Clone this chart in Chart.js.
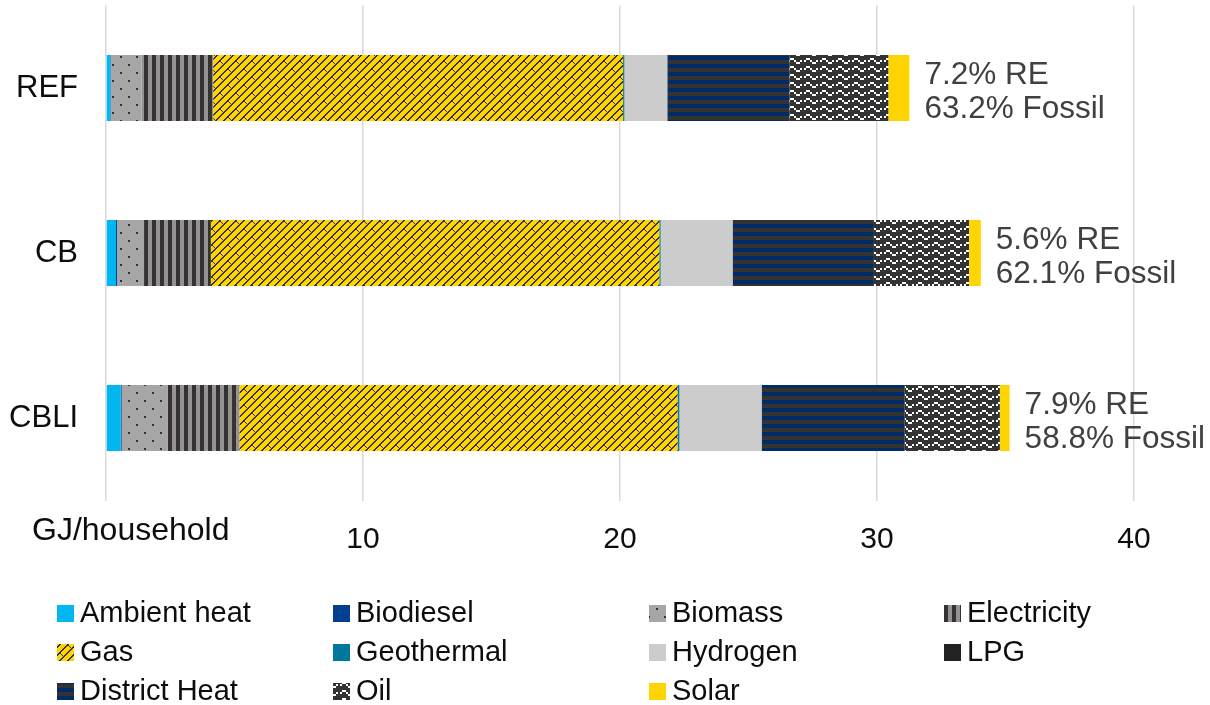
<!DOCTYPE html>
<html>
<head>
<meta charset="utf-8">
<title>Household final energy by carrier</title>
<script src="https://cdn.jsdelivr.net/npm/chart.js@4.4.1/dist/chart.umd.min.js"></script>
<style>
  body { margin: 0; background: #fff; }
  canvas { display: block; }
</style>
</head>
<body>
<canvas id="energy-chart" width="1210" height="705"></canvas>
<script>
// scenarios on the y axis
const scenarios = ['REF', 'CB', 'CBLI'];

// GJ per household, one value per scenario
const ambientHeat  = [0.17, 0.39, 0.57];
const biodiesel    = [0.02, 0.04, 0.04];
const biomass      = [1.2, 1.05, 1.8];
const electricity  = [2.78, 2.6, 2.78];
const gas          = [15.95, 17.45, 17.05];
const geothermal   = [0.05, 0.05, 0.07];
const hydrogen     = [1.67, 2.8, 3.2];
const lpg          = [0, 0, 0];
const districtHeat = [4.75, 5.5, 5.57];
const oil          = [3.85, 3.7, 3.7];
const solar        = [0.82, 0.46, 0.38];

// shares written next to each bar
const reShare     = ['7.2% RE', '5.6% RE', '7.9% RE'];
const fossilShare = ['63.2% Fossil', '62.1% Fossil', '58.8% Fossil'];

const xTicks = [10, 20, 30, 40];
const unitLabel = 'GJ/household';

const FONT = "'Liberation Sans', Arial, sans-serif";

// 8x8 hatch bitmaps (one byte per row, high bit on the left), drawn at 2x
function bitTile(rows, bg, fg) {
  const s = 2;
  const c = document.createElement('canvas');
  c.width = 8 * s; c.height = rows.length * s;
  const g = c.getContext('2d');
  g.fillStyle = bg;
  g.fillRect(0, 0, c.width, c.height);
  g.fillStyle = fg;
  rows.forEach((bits, y) => {
    for (let x = 0; x < 8; x++) {
      if (bits & (0x80 >> x)) g.fillRect(x * s, y * s, s, s);
    }
  });
  return g.createPattern(c, 'repeat');
}

// diagonal shingles for gas: "/" courses with short "\" joints
function shingleTile(bg, fg) {
  const c = document.createElement('canvas');
  c.width = 16; c.height = 16;
  const g = c.getContext('2d');
  g.fillStyle = bg;
  g.fillRect(0, 0, 16, 16);
  g.fillStyle = fg;
  for (let y = 0; y < 16; y++) {
    for (let x = 0; x < 16; x++) {
      const d = (x + y) % 8;
      if (d === 7 || d === 0) g.fillRect(x, y, 1, 1);
    }
  }
  [[4, 5], [5, 6], [6, 7], [12, 13], [13, 14], [14, 15]].forEach(p => g.fillRect(p[0], p[1], 1, 1));
  return g.createPattern(c, 'repeat');
}

const biomassFill     = bitTile([0x80, 0, 0, 0, 0x08, 0, 0, 0], '#A6A6A6', '#333333');
const electricityFill = bitTile([0xCC, 0xCC, 0xCC, 0xCC], '#979191', '#333333');
const gasFill         = shingleTile('#FFD400', '#333333');
const districtFill    = bitTile([0xFF, 0xFF, 0x00, 0x00], '#333333', '#022C66');
const oilFill         = bitTile([0x00, 0x18, 0xA4, 0x03], '#333333', '#FFFFFF');

const carriers = [
  { label: 'Ambient heat', data: ambientHeat, fill: '#00B7F1' },
  { label: 'Biodiesel', data: biodiesel, fill: '#003F91' },
  { label: 'Biomass', data: biomass, fill: biomassFill },
  { label: 'Electricity', data: electricity, fill: electricityFill },
  { label: 'Gas', data: gas, fill: gasFill },
  { label: 'Geothermal', data: geothermal, fill: '#00789E' },
  { label: 'Hydrogen', data: hydrogen, fill: '#CCCCCC' },
  { label: 'LPG', data: lpg, fill: '#222222' },
  { label: 'District Heat', data: districtHeat, fill: districtFill },
  { label: 'Oil', data: oil, fill: oilFill },
  { label: 'Solar', data: solar, fill: '#FFD400' }
];

// legend grid: four columns, filled row by row
const legendCols = [57, 333, 649, 944];
const legendRows = [613, 652, 691];

const legendPlugin = {
  id: 'gridLegend',
  afterDraw(chart) {
    const ctx = chart.ctx;
    ctx.save();
    ctx.font = '29px ' + FONT;
    ctx.textBaseline = 'middle';
    ctx.textAlign = 'left';
    chart.data.datasets.forEach((ds, i) => {
      const x = legendCols[i % 4];
      const y = legendRows[Math.floor(i / 4)];
      ctx.fillStyle = ds.backgroundColor;
      ctx.fillRect(x, y - 8, 17, 17);
      ctx.fillStyle = '#0D0D0D';
      ctx.fillText(ds.label, x + 23, y + 1);
    });
    ctx.restore();
  }
};

const shareLabels = {
  id: 'shareLabels',
  afterDraw(chart) {
    const ctx = chart.ctx;
    const xs = chart.scales.x, ys = chart.scales.y;
    ctx.save();
    ctx.font = '31.5px ' + FONT;
    ctx.fillStyle = '#404040';
    ctx.textAlign = 'left';
    ctx.textBaseline = 'alphabetic';
    scenarios.forEach((s, i) => {
      let total = 0;
      chart.data.datasets.forEach(ds => { total += ds.data[i]; });
      const x = xs.getPixelForValue(total) + 15;
      const y = ys.getPixelForValue(i);
      ctx.fillText(reShare[i], x, y - 4);
      ctx.fillText(fossilShare[i], x, y + 30);
    });
    // unit sits where the zero tick would be
    ctx.font = '32px ' + FONT;
    ctx.fillStyle = '#0D0D0D';
    ctx.textBaseline = 'middle';
    ctx.fillText(unitLabel, 32, 531);
    ctx.restore();
  }
};

const config = {
  type: 'bar',
  data: {
    labels: scenarios,
    datasets: carriers.map(c => ({
      label: c.label,
      data: c.data,
      backgroundColor: c.fill,
      borderWidth: 0,
      categoryPercentage: 0.8,
      barPercentage: 0.5
    }))
  },
  options: {
    indexAxis: 'y',
    responsive: false,
    animation: false,
    layout: { padding: { top: 5.5, right: 76, bottom: 0, left: 0 } },
    plugins: {
      legend: { display: false },
      tooltip: { enabled: false }
    },
    scales: {
      x: {
        stacked: true,
        min: 0,
        max: 40,
        afterFit: scale => { scale.height = 204.5; },
        grid: { color: '#D9D9D9', lineWidth: 1.5, drawTicks: false },
        border: { display: false },
        ticks: {
          stepSize: 10,
          padding: 21,
          color: '#0D0D0D',
          font: { family: FONT, size: 30 },
          callback: v => xTicks.includes(v) ? String(v) : ''
        }
      },
      y: {
        stacked: true,
        afterFit: scale => {
          scale.width = 106;
          scale.paddingTop = 0;
          scale.paddingBottom = 0;
        },
        grid: { display: false, drawTicks: false },
        border: { display: false },
        ticks: {
          padding: 28,
          color: '#0D0D0D',
          font: { family: FONT, size: 31 }
        }
      }
    }
  },
  plugins: [legendPlugin, shareLabels]
};

const energyChart = new Chart(document.getElementById('energy-chart'), config);
</script>
</body>
</html>
